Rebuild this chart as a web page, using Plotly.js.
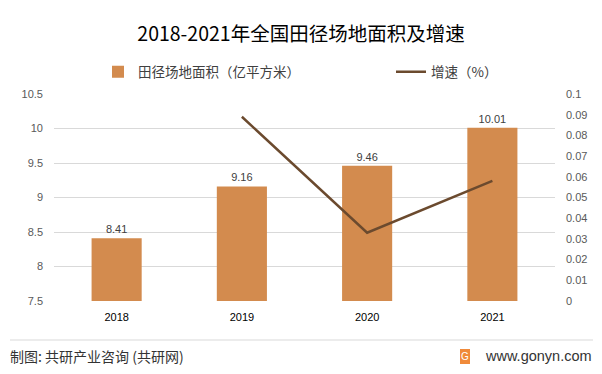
<!DOCTYPE html>
<html>
<head>
<meta charset="utf-8">
<script src="https://cdn.plot.ly/plotly-3.0.1.min.js"></script>
<style>html,body{margin:0;padding:0;background:#fff;}#chart{width:602px;height:374px;}</style>
</head>
<body>
<div id="chart"></div>
<script>
const years = ['2018', '2019', '2020', '2021'];
const area = [8.41, 9.16, 9.46, 10.01];
const growth = [null, 0.089, 0.033, 0.058];
const areaName = '田径场地面积（亿平方米）';
const growthName = '增速（%）';
const titleText = '2018-2021年全国田径场地面积及增速';
const sourceText = '制图: 共研产业咨询 (共研网)';
const siteText = 'www.gonyn.com';

const W = 602, H = 374;
const L = 54, R = 47, T = 94, B = 73;
const pw = W - L - R, ph = H - T - B;
const px = x => (x - L) / pw;
const py = y => (H - B - y) / ph;

const cjk = '"Noto Sans CJK SC", "Noto Sans", sans-serif';
const num = '"Liberation Sans", "Noto Sans", sans-serif';

const traces = [
  {
    type: 'bar', x: years, y: area, name: areaName,
    marker: {color: '#D38B4E'}, width: 0.4,
    text: area.map(v => v.toFixed(2)), textposition: 'outside',
    textfont: {family: num, size: 11, color: '#404040'},
    cliponaxis: false, legend: 'legend'
  },
  {
    type: 'scatter', mode: 'lines', x: years, y: growth, name: growthName,
    yaxis: 'y2', line: {color: '#6B4A2E', width: 2.5}, legend: 'legend2'
  }
];

const layout = {
  width: W, height: H,
  margin: {l: L, r: R, t: T, b: B},
  paper_bgcolor: '#fff', plot_bgcolor: '#fff',
  title: {text: titleText, x: 0.5, xanchor: 'center', y: 1 - 34 / H, yanchor: 'middle',
          xref: 'container', yref: 'container',
          font: {family: cjk, size: 19.5, color: '#000'}},
  showlegend: true,
  legend: {orientation: 'h', xref: 'container', yref: 'container', x: 98 / W, y: 1 - 72 / H,
           xanchor: 'left', yanchor: 'middle', font: {family: cjk, size: 13.5, color: '#404040'}, bgcolor: 'rgba(0,0,0,0)'},
  legend2: {orientation: 'h', xref: 'container', yref: 'container', x: 391 / W, y: 1 - 72 / H,
            xanchor: 'left', yanchor: 'middle', font: {family: cjk, size: 13.5, color: '#404040'}, bgcolor: 'rgba(0,0,0,0)'},
  bargap: 0.6,
  xaxis: {type: 'category', showgrid: false, zeroline: false, showline: false, ticks: '',
          tickfont: {family: num, size: 11, color: '#000'}, ticklabelstandoff: 8},
  yaxis: {range: [7.5, 10.5], dtick: 0.5, tick0: 7.5, showgrid: true, gridcolor: '#D9D9D9', gridwidth: 1,
          zeroline: false, showline: false, ticks: '', tickfont: {family: num, size: 11, color: '#595959'},
          ticklabelstandoff: 10},
  yaxis2: {overlaying: 'y', side: 'right', range: [0, 0.1], dtick: 0.01, tick0: 0, showgrid: false,
           zeroline: false, showline: false, ticks: '', tickfont: {family: num, size: 11, color: '#595959'},
           ticklabelstandoff: 10},
  shapes: [
    {type: 'line', xref: 'paper', yref: 'paper', x0: px(10), x1: px(593), y0: py(340), y1: py(340),
     line: {color: '#D9D9D9', width: 1}},
    {type: 'rect', xref: 'paper', yref: 'paper', x0: px(460), x1: px(470), y0: py(364), y1: py(349),
     fillcolor: '#F08A3A', line: {width: 0}}
  ],
  annotations: [
    {text: sourceText, xref: 'paper', yref: 'paper', x: px(8), y: py(356), xanchor: 'left', yanchor: 'middle',
     showarrow: false, font: {family: cjk, size: 14, color: '#333'}},
    {text: 'G', xref: 'paper', yref: 'paper', x: px(465), y: py(356.5), xanchor: 'center', yanchor: 'middle',
     showarrow: false, font: {family: num, size: 10, color: '#fff'}},
    {text: siteText, xref: 'paper', yref: 'paper', x: px(594), y: py(356), xanchor: 'right', yanchor: 'middle',
     showarrow: false, font: {family: num, size: 14.5, color: '#333'}}
  ]
};

Plotly.newPlot('chart', traces, layout, {displayModeBar: false, staticPlot: true});
</script>
</body>
</html>
